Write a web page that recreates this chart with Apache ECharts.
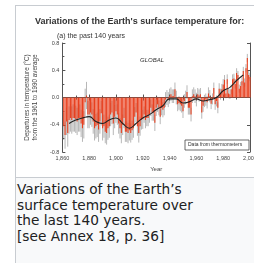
<!DOCTYPE html>
<html>
<head>
<meta charset="utf-8">
<script src="https://cdn.jsdelivr.net/npm/echarts@6/dist/echarts.min.js"></script>
<style>
body { margin: 0; background: #fff; width: 254px; height: 263px; overflow: hidden; font-family: "DejaVu Sans", sans-serif; }
#thumb { position: absolute; left: 15px; top: 5px; width: 260px; height: 270px; border: 1px solid #c8ccd1; background: #f8f9fa; }
#main { position: absolute; left: 16px; top: 6px; width: 250px; height: 171px; background: #fff; border-bottom: 1px solid #c8ccd1; }
#cap { position: absolute; left: 17px; top: 182px; font-size: 13.7px; line-height: 15.5px; color: #202122; }
</style>
</head>
<body>
<div id="thumb"></div>
<div id="main"></div>
<div id="cap">Variations of the Earth’s<br>surface temperature over<br>the last 140 years.<br>[see Annex 18, p. 36]</div>
<script>
// annual global anomalies 1861-2000 (degC vs 1961-1990)
var years = [];
for (var y = 1861; y <= 2000; y++) years.push(y);
var temps = [
    -0.42, -0.55, -0.35, -0.52, -0.33, -0.30, -0.33, -0.30, -0.30, -0.32,
    -0.35, -0.30, -0.30, -0.38, -0.45, -0.40, -0.07, 0.03, -0.25, -0.25,
    -0.22, -0.25, -0.35, -0.45, -0.42, -0.40, -0.47, -0.35, -0.23, -0.45,
    -0.42, -0.50, -0.52, -0.45, -0.42, -0.25, -0.22, -0.38, -0.28, -0.20,
    -0.25, -0.38, -0.45, -0.52, -0.40, -0.30, -0.50, -0.50, -0.52, -0.48,
    -0.52, -0.48, -0.45, -0.28, -0.22, -0.42, -0.52, -0.42, -0.33, -0.32,
    -0.25, -0.33, -0.30, -0.30, -0.25, -0.15, -0.22, -0.22, -0.37, -0.15,
    -0.10, -0.15, -0.28, -0.15, -0.18, -0.15, -0.03, 0.00, -0.03, 0.02,
    0.05, 0.02, 0.02, 0.12, 0.00, -0.10, -0.08, -0.10, -0.12, -0.20,
    -0.05, 0.00, 0.08, -0.15, -0.15, -0.25, 0.02, 0.05, 0.02, -0.03,
    0.05, 0.03, 0.05, -0.22, -0.12, -0.05, -0.03, -0.07, 0.06, 0.02,
    -0.09, -0.02, 0.14, -0.10, -0.05, -0.15, 0.13, 0.05, 0.12, 0.19,
    0.26, 0.06, 0.27, 0.06, 0.05, 0.12, 0.27, 0.28, 0.20, 0.36,
    0.33, 0.13, 0.17, 0.24, 0.39, 0.22, 0.43, 0.58, 0.33, 0.30
];
// 95% range half-width, one value per decade (1861-1870 ... 1991-2000)
var decadeErr = [0.20, 0.20, 0.18, 0.17, 0.15, 0.14, 0.12, 0.11, 0.10, 0.10, 0.09, 0.08, 0.07, 0.06];
// decadal smoothed curve
var smoothYears = [1865, 1870, 1875, 1880, 1885, 1890, 1895, 1900, 1905, 1910, 1915, 1920, 1925, 1930,
    1935, 1940, 1945, 1950, 1955, 1960, 1965, 1970, 1975, 1980, 1985, 1990, 1995];
var smoothVals = [-0.38, -0.33, -0.30, -0.28, -0.35, -0.38, -0.33, -0.30, -0.38, -0.45, -0.38, -0.30, -0.25, -0.18,
    -0.12, -0.02, -0.02, -0.08, -0.06, -0.02, -0.05, -0.03, 0.00, 0.10, 0.15, 0.25, 0.33];
var xTicks = [1860, 1880, 1900, 1920, 1940, 1960, 1980, 2000];
var yTicks = [-0.8, -0.4, 0.0, 0.4, 0.8];

var barData = [], errData = [], lineData = [];
for (var i = 0; i < years.length; i++) {
    barData.push([years[i], temps[i]]);
    var e = decadeErr[Math.floor(i / 10)];
    errData.push([years[i], temps[i] - e, temps[i] + e]);
}
for (var j = 0; j < smoothYears.length; j++) lineData.push([smoothYears[j], smoothVals[j]]);

var font = 'Liberation Sans';
var axisCommon = {
    min: xTicks[0], max: xTicks[xTicks.length - 1], interval: 20,
    axisLine: { lineStyle: { color: '#555', width: 1 } },
    axisTick: { inside: true, length: 3, lineStyle: { color: '#555' } },
    minorTick: { show: true, splitNumber: 2, length: 2, lineStyle: { color: '#555' } },
    splitLine: { show: false }
};

var option = {
    animation: false,
    textStyle: { fontFamily: font },
    title: [
        { text: 'Variations of the Earth\'s surface temperature for:', left: 14, top: 6,
          textStyle: { fontSize: 9, fontWeight: 'bold', color: '#333', fontFamily: font } },
        { text: '(a) the past 140 years', left: 36, top: 22,
          textStyle: { fontSize: 7, fontWeight: 'normal', color: '#333', fontFamily: font } }
    ],
    grid: { left: 36, right: 16, top: 37, bottom: 19 },
    xAxis: [
        Object.assign({ type: 'value', position: 'bottom', name: 'Year', nameLocation: 'middle', nameGap: 13,
            nameTextStyle: { fontSize: 6, color: '#444' },
            axisLabel: { fontSize: 5.5, color: '#444', margin: 3 } }, axisCommon),
        Object.assign({ type: 'value', position: 'top', axisLabel: { show: false } }, axisCommon)
    ],
    yAxis: [
        { type: 'value', min: yTicks[0], max: yTicks[yTicks.length - 1], interval: 0.4,
          name: 'Departures in temperature (°C)\nfrom the 1961 to 1990 average',
          nameLocation: 'middle', nameRotate: 90, nameGap: 18,
          nameTextStyle: { fontSize: 6.3, color: '#444', lineHeight: 7.5 },
          axisLine: { show: true, lineStyle: { color: '#555' } },
          axisTick: { inside: true, length: 3, lineStyle: { color: '#555' } },
          minorTick: { show: true, splitNumber: 2, length: 2, lineStyle: { color: '#555' } },
          splitLine: { show: false },
          axisLabel: { fontSize: 5.5, color: '#444', margin: 3, formatter: function (v) { return v.toFixed(1); } } },
        { type: 'value', min: yTicks[0], max: yTicks[yTicks.length - 1], interval: 0.4, position: 'right',
          axisLine: { show: true, lineStyle: { color: '#555' } },
          axisTick: { inside: true, length: 3, lineStyle: { color: '#555' } },
          axisLabel: { show: false }, splitLine: { show: false } }
    ],
    series: [
        { type: 'bar', data: barData, barWidth: 1.1, itemStyle: { color: '#e8401f' } },
        { type: 'custom', data: errData,
          renderItem: function (params, api) {
              var lo = api.coord([api.value(0), api.value(1)]);
              var hi = api.coord([api.value(0), api.value(2)]);
              return { type: 'line', shape: { x1: lo[0], y1: lo[1], x2: hi[0], y2: hi[1] },
                       style: { stroke: 'rgba(90,90,90,0.55)', lineWidth: 0.8 } };
          } },
        { type: 'line', data: lineData, smooth: true, symbol: 'none',
          lineStyle: { color: '#222', width: 1.1 } }
    ],
    graphic: [
        { type: 'text', left: 124, top: 51,
          style: { text: 'GLOBAL', fontSize: 6, fontStyle: 'italic', fill: '#333', fontFamily: font } },
        { type: 'rect', shape: { x: 169, y: 134, width: 64, height: 10 },
          style: { fill: '#fff', stroke: '#444', lineWidth: 0.8 } },
        { type: 'text', x: 172, y: 136.5,
          style: { text: 'Data from thermometers', fontSize: 5, fill: '#333', fontFamily: font } }
    ]
};

var chart = echarts.init(document.getElementById('main'));
chart.setOption(option);
</script>
</body>
</html>
